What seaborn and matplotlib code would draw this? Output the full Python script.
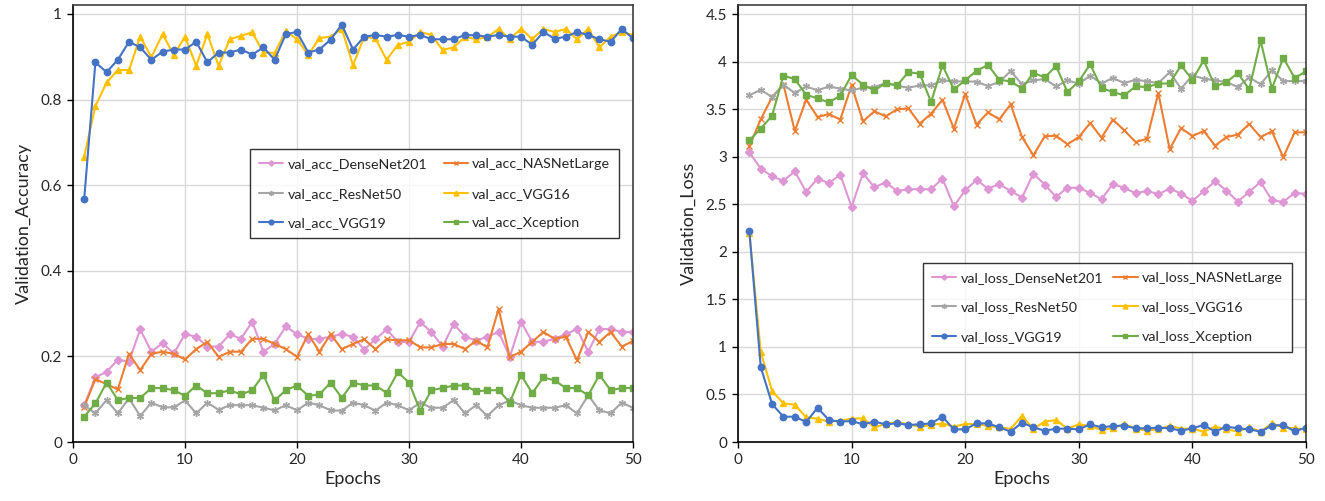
import numpy as np
import pandas as pd
import matplotlib
matplotlib.use("Agg")
import matplotlib.pyplot as plt
import seaborn as sns
from matplotlib.ticker import FuncFormatter

epochs = list(range(1, 51))

acc_densenet201 = [0.086, 0.151, 0.164, 0.192, 0.188, 0.263, 0.211, 0.231, 0.207, 0.252,
                   0.246, 0.223, 0.223, 0.252, 0.241, 0.281, 0.211, 0.229, 0.270, 0.252,
                   0.241, 0.241, 0.246, 0.252, 0.246, 0.216, 0.240, 0.263, 0.234, 0.234,
                   0.280, 0.257, 0.223, 0.276, 0.246, 0.237, 0.246, 0.257, 0.199, 0.281,
                   0.234, 0.234, 0.241, 0.252, 0.264, 0.211, 0.264, 0.264, 0.257, 0.257]
acc_nasnetlarge = [0.082, 0.147, 0.135, 0.123, 0.206, 0.168, 0.206, 0.211, 0.206, 0.193,
                   0.217, 0.234, 0.199, 0.211, 0.211, 0.241, 0.241, 0.229, 0.217, 0.199,
                   0.252, 0.211, 0.252, 0.217, 0.229, 0.240, 0.217, 0.240, 0.237, 0.238,
                   0.221, 0.221, 0.229, 0.229, 0.217, 0.237, 0.221, 0.311, 0.198, 0.211,
                   0.234, 0.257, 0.241, 0.246, 0.191, 0.257, 0.234, 0.257, 0.223, 0.236]
acc_resnet50 = [0.086, 0.067, 0.098, 0.067, 0.102, 0.061, 0.092, 0.081, 0.081, 0.097,
                0.067, 0.092, 0.075, 0.086, 0.086, 0.086, 0.080, 0.074, 0.086, 0.074,
                0.092, 0.086, 0.074, 0.073, 0.092, 0.086, 0.073, 0.092, 0.086, 0.074,
                0.092, 0.080, 0.080, 0.098, 0.067, 0.086, 0.061, 0.086, 0.097, 0.086,
                0.080, 0.080, 0.080, 0.086, 0.067, 0.109, 0.074, 0.067, 0.092, 0.080]
acc_vgg16 = [0.667, 0.785, 0.840, 0.869, 0.869, 0.947, 0.899, 0.953, 0.904, 0.947,
             0.879, 0.953, 0.879, 0.941, 0.949, 0.957, 0.910, 0.909, 0.960, 0.941,
             0.904, 0.944, 0.947, 0.966, 0.880, 0.947, 0.943, 0.893, 0.928, 0.935,
             0.958, 0.951, 0.916, 0.922, 0.947, 0.941, 0.946, 0.965, 0.941, 0.966,
             0.941, 0.965, 0.958, 0.965, 0.941, 0.965, 0.922, 0.947, 0.958, 0.951]
acc_vgg19 = [0.568, 0.887, 0.864, 0.893, 0.935, 0.922, 0.893, 0.912, 0.917, 0.917,
             0.935, 0.887, 0.910, 0.910, 0.917, 0.905, 0.922, 0.893, 0.953, 0.958,
             0.910, 0.917, 0.940, 0.975, 0.917, 0.947, 0.951, 0.947, 0.951, 0.947,
             0.951, 0.941, 0.941, 0.941, 0.951, 0.950, 0.947, 0.951, 0.947, 0.947,
             0.928, 0.958, 0.942, 0.947, 0.958, 0.951, 0.941, 0.935, 0.965, 0.943]
acc_xception = [0.059, 0.090, 0.139, 0.098, 0.103, 0.103, 0.126, 0.126, 0.121, 0.108,
                0.132, 0.114, 0.114, 0.121, 0.111, 0.121, 0.157, 0.097, 0.121, 0.132,
                0.108, 0.111, 0.139, 0.103, 0.139, 0.132, 0.132, 0.115, 0.163, 0.139,
                0.073, 0.121, 0.126, 0.132, 0.132, 0.118, 0.121, 0.121, 0.092, 0.157,
                0.114, 0.151, 0.144, 0.126, 0.126, 0.109, 0.157, 0.121, 0.126, 0.126]

loss_densenet201 = [3.046, 2.875, 2.794, 2.745, 2.847, 2.629, 2.770, 2.721, 2.812, 2.472,
                    2.826, 2.679, 2.728, 2.640, 2.658, 2.658, 2.658, 2.770, 2.479, 2.647,
                    2.755, 2.665, 2.710, 2.640, 2.570, 2.822, 2.707, 2.577, 2.675, 2.672,
                    2.619, 2.553, 2.714, 2.672, 2.616, 2.640, 2.605, 2.665, 2.612, 2.535,
                    2.637, 2.742, 2.643, 2.528, 2.629, 2.735, 2.542, 2.525, 2.619, 2.609]
loss_nasnetlarge = [3.109, 3.393, 3.627, 3.757, 3.270, 3.599, 3.417, 3.449, 3.390, 3.750,
                    3.372, 3.477, 3.424, 3.498, 3.508, 3.348, 3.452, 3.599, 3.295, 3.659,
                    3.337, 3.466, 3.393, 3.550, 3.207, 3.015, 3.214, 3.221, 3.130, 3.207,
                    3.354, 3.200, 3.390, 3.277, 3.154, 3.189, 3.669, 3.078, 3.301, 3.217,
                    3.270, 3.116, 3.207, 3.232, 3.344, 3.207, 3.266, 2.994, 3.256, 3.256]
loss_resnet50 = [3.645, 3.704, 3.627, 3.757, 3.669, 3.739, 3.697, 3.739, 3.715, 3.697,
                 3.725, 3.732, 3.774, 3.746, 3.725, 3.750, 3.750, 3.803, 3.792, 3.792,
                 3.788, 3.743, 3.785, 3.900, 3.761, 3.803, 3.816, 3.739, 3.803, 3.767,
                 3.852, 3.771, 3.827, 3.774, 3.809, 3.792, 3.774, 3.889, 3.715, 3.855,
                 3.820, 3.803, 3.785, 3.732, 3.834, 3.761, 3.907, 3.795, 3.795, 3.795]
loss_vgg16 = [2.20, 0.95, 0.536, 0.406, 0.392, 0.259, 0.245, 0.214, 0.224, 0.245,
              0.249, 0.154, 0.189, 0.210, 0.186, 0.161, 0.179, 0.196, 0.161, 0.189,
              0.189, 0.168, 0.154, 0.140, 0.273, 0.140, 0.214, 0.231, 0.140, 0.186,
              0.168, 0.126, 0.144, 0.189, 0.140, 0.119, 0.133, 0.172, 0.140, 0.140,
              0.109, 0.161, 0.133, 0.109, 0.154, 0.109, 0.196, 0.151, 0.144, 0.133]
loss_vgg19 = [2.22, 0.79, 0.399, 0.266, 0.266, 0.210, 0.360, 0.231, 0.214, 0.221,
              0.186, 0.214, 0.186, 0.196, 0.179, 0.186, 0.196, 0.266, 0.133, 0.133,
              0.196, 0.196, 0.154, 0.109, 0.203, 0.154, 0.119, 0.140, 0.140, 0.133,
              0.186, 0.154, 0.168, 0.172, 0.144, 0.144, 0.151, 0.144, 0.119, 0.144,
              0.179, 0.109, 0.161, 0.144, 0.133, 0.109, 0.172, 0.179, 0.112, 0.151]
loss_xception = [3.172, 3.295, 3.431, 3.852, 3.816, 3.651, 3.613, 3.571, 3.641, 3.858,
                 3.757, 3.697, 3.774, 3.750, 3.889, 3.872, 3.575, 3.960, 3.708, 3.803,
                 3.904, 3.964, 3.809, 3.792, 3.715, 3.882, 3.834, 3.953, 3.680, 3.792,
                 3.971, 3.722, 3.680, 3.645, 3.739, 3.732, 3.767, 3.771, 3.960, 3.809,
                 4.013, 3.739, 3.785, 3.879, 3.708, 4.223, 3.715, 4.041, 3.827, 3.898]

models = ["DenseNet201", "NASNetLarge", "ResNet50", "VGG16", "VGG19", "Xception"]
acc_series = [acc_densenet201, acc_nasnetlarge, acc_resnet50, acc_vgg16, acc_vgg19, acc_xception]
loss_series = [loss_densenet201, loss_nasnetlarge, loss_resnet50, loss_vgg16, loss_vgg19, loss_xception]

colors = ["#DE97D4", "#ED7D31", "#A5A5A5", "#FFC000", "#4472C4", "#70AD47"]
markers = ["D", "x", (6, 2, 0), "^", "o", "s"]
msizes = [3.6, 4.5, 5.0, 4.6, 4.6, 4.6]

sns.set_theme(style="white")
plt.rcParams["font.family"] = ["Lato", "DejaVu Sans"]

fig = plt.figure(figsize=(13.25, 5.01), dpi=100)
ax1 = fig.add_axes([73 / 1325, 59 / 501, 560 / 1325, 437 / 501])
ax2 = fig.add_axes([738 / 1325, 59 / 501, 568 / 1325, 437 / 501])


def draw(ax, series, prefix, ylabel, ylim, yticks, legend_anchor, colsp):
    for name, vals, c, m, ms in zip(models, series, colors, markers, msizes):
        df = pd.DataFrame({"Epochs": epochs, "v": vals})
        sns.lineplot(data=df, x="Epochs", y="v", ax=ax, color=c, marker=m,
                     markersize=ms, markeredgecolor=c, markerfacecolor=c,
                     markeredgewidth=1.0, linewidth=1.5, label=f"{prefix}_{name}")
    ax.set_xlim(0, 50)
    ax.set_ylim(*ylim)
    ax.set_xticks([0, 10, 20, 30, 40, 50])
    ax.set_yticks(yticks)
    ax.yaxis.set_major_formatter(FuncFormatter(lambda v, p: f"{v:g}"))
    ax.grid(True, color="#D9D9D9", linewidth=1.0)
    ax.set_axisbelow(True)
    for s in ["left", "bottom"]:
        ax.spines[s].set_color("#000000")
        ax.spines[s].set_linewidth(1.2)
    for s in ["top", "right"]:
        ax.spines[s].set_color("#404040")
        ax.spines[s].set_linewidth(1.2)
    ax.tick_params(axis="both", which="major", direction="out", length=4, width=1,
                   color="#000000", labelsize=11, pad=4, left=True, bottom=True,
                   labelcolor="#262626")
    ax.set_xlabel("Epochs", fontsize=13, color="#262626", labelpad=3)
    ax.set_ylabel(ylabel, fontsize=13, color="#262626", labelpad=6)
    h, l = ax.get_legend_handles_labels()
    order = [0, 2, 4, 1, 3, 5]
    leg = ax.legend([h[i] for i in order], [l[i] for i in order], ncol=2,
                    loc="upper left", bbox_to_anchor=legend_anchor, fontsize=10.3,
                    frameon=True, fancybox=False, edgecolor="#000000",
                    handlelength=1.7, handletextpad=0.3, columnspacing=colsp,
                    labelspacing=1.22, borderpad=0.62, borderaxespad=0.0,
                    markerscale=0.75)
    leg.get_frame().set_linewidth(1.0)
    for t in leg.get_texts():
        t.set_color("#262626")


draw(ax1, acc_series, "val_acc", "Validation_Accuracy", (0, 1.021),
     [0, 0.2, 0.4, 0.6, 0.8, 1.0], (0.316, 0.670), 1.15)
draw(ax2, loss_series, "val_loss", "Validation_Loss", (0, 4.595),
     [0, 0.5, 1, 1.5, 2, 2.5, 3, 3.5, 4, 4.5], (0.326, 0.410), 0.7)

fig.savefig("out.png", dpi=100)
